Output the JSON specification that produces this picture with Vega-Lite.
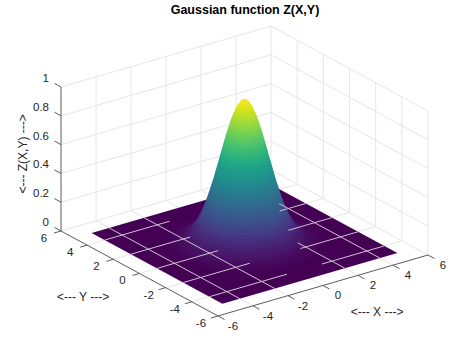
{"$schema":"https://vega.github.io/schema/vega-lite/v6.json","width":474,"height":355,"padding":0,"autosize":{"type":"none"},"background":"white","view":{"stroke":null},
"title":{"text":"Gaussian function Z(X,Y)","font":"Liberation Sans","fontSize":12.5,"fontWeight":"bold","color":"#000000","anchor":"middle","dx":8,"offset":-16},
"data":{"values":[
{"k":"g","X":-4,"Y":6,"Z":0,"X2":-4,"Y2":6,"Z2":1},{"k":"g","X":-2,"Y":6,"Z":0,"X2":-2,"Y2":6,"Z2":1},{"k":"g","X":0,"Y":6,"Z":0,"X2":0,"Y2":6,"Z2":1},{"k":"g","X":2,"Y":6,"Z":0,"X2":2,"Y2":6,"Z2":1},{"k":"g","X":4,"Y":6,"Z":0,"X2":4,"Y2":6,"Z2":1},{"k":"g","X":6,"Y":6,"Z":0,"X2":6,"Y2":6,"Z2":1},
{"k":"g","X":6,"Y":-6,"Z":0,"X2":6,"Y2":-6,"Z2":1},{"k":"g","X":6,"Y":-4,"Z":0,"X2":6,"Y2":-4,"Z2":1},{"k":"g","X":6,"Y":-2,"Z":0,"X2":6,"Y2":-2,"Z2":1},{"k":"g","X":6,"Y":0,"Z":0,"X2":6,"Y2":0,"Z2":1},{"k":"g","X":6,"Y":2,"Z":0,"X2":6,"Y2":2,"Z2":1},{"k":"g","X":6,"Y":4,"Z":0,"X2":6,"Y2":4,"Z2":1},
{"k":"g","X":-6,"Y":6,"Z":0.2,"X2":6,"Y2":6,"Z2":0.2},{"k":"g","X":-6,"Y":6,"Z":0.4,"X2":6,"Y2":6,"Z2":0.4},{"k":"g","X":-6,"Y":6,"Z":0.6,"X2":6,"Y2":6,"Z2":0.6},{"k":"g","X":-6,"Y":6,"Z":0.8,"X2":6,"Y2":6,"Z2":0.8},{"k":"g","X":-6,"Y":6,"Z":1,"X2":6,"Y2":6,"Z2":1},{"k":"g","X":-6,"Y":6,"Z":0,"X2":6,"Y2":6,"Z2":0},
{"k":"g","X":6,"Y":-6,"Z":0.2,"X2":6,"Y2":6,"Z2":0.2},{"k":"g","X":6,"Y":-6,"Z":0.4,"X2":6,"Y2":6,"Z2":0.4},{"k":"g","X":6,"Y":-6,"Z":0.6,"X2":6,"Y2":6,"Z2":0.6},{"k":"g","X":6,"Y":-6,"Z":0.8,"X2":6,"Y2":6,"Z2":0.8},{"k":"g","X":6,"Y":-6,"Z":1,"X2":6,"Y2":6,"Z2":1},{"k":"g","X":6,"Y":-6,"Z":0,"X2":6,"Y2":6,"Z2":0},
{"k":"g","X":-4,"Y":-6,"Z":0,"X2":-4,"Y2":6,"Z2":0},{"k":"g","X":-2,"Y":-6,"Z":0,"X2":-2,"Y2":6,"Z2":0},{"k":"g","X":0,"Y":-6,"Z":0,"X2":0,"Y2":6,"Z2":0},{"k":"g","X":2,"Y":-6,"Z":0,"X2":2,"Y2":6,"Z2":0},{"k":"g","X":4,"Y":-6,"Z":0,"X2":4,"Y2":6,"Z2":0},
{"k":"g","X":-6,"Y":-4,"Z":0,"X2":6,"Y2":-4,"Z2":0},{"k":"g","X":-6,"Y":-2,"Z":0,"X2":6,"Y2":-2,"Z2":0},{"k":"g","X":-6,"Y":0,"Z":0,"X2":6,"Y2":0,"Z2":0},{"k":"g","X":-6,"Y":2,"Z":0,"X2":6,"Y2":2,"Z2":0},{"k":"g","X":-6,"Y":4,"Z":0,"X2":6,"Y2":4,"Z2":0},
{"k":"f","i":0,"X":-5,"Y":5,"Z":0},{"k":"f","i":1,"X":-5,"Y":-5,"Z":0},{"k":"f","i":2,"X":5,"Y":-5,"Z":0},{"k":"f","i":3,"X":5,"Y":5,"Z":0},
{"k":"s","X":0,"Y":0,"Z":0.005,"R":3.646},{"k":"s","X":0,"Y":0,"Z":0.01,"R":3.399},{"k":"s","X":0,"Y":0,"Z":0.015,"R":3.246},{"k":"s","X":0,"Y":0,"Z":0.02,"R":3.133},{"k":"s","X":0,"Y":0,"Z":0.03,"R":2.966},{"k":"s","X":0,"Y":0,"Z":0.04,"R":2.841},{"k":"s","X":0,"Y":0,"Z":0.05,"R":2.742},{"k":"s","X":0,"Y":0,"Z":0.06,"R":2.657},{"k":"s","X":0,"Y":0,"Z":0.08,"R":2.518},{"k":"s","X":0,"Y":0,"Z":0.1,"R":2.404},{"k":"s","X":0,"Y":0,"Z":0.12,"R":2.306},{"k":"s","X":0,"Y":0,"Z":0.14,"R":2.221},{"k":"s","X":0,"Y":0,"Z":0.16,"R":2.144},{"k":"s","X":0,"Y":0,"Z":0.18,"R":2.074},{"k":"s","X":0,"Y":0,"Z":0.2,"R":2.009},{"k":"s","X":0,"Y":0,"Z":0.22,"R":1.949},{"k":"s","X":0,"Y":0,"Z":0.24,"R":1.892},{"k":"s","X":0,"Y":0,"Z":0.26,"R":1.838},{"k":"s","X":0,"Y":0,"Z":0.28,"R":1.788},{"k":"s","X":0,"Y":0,"Z":0.3,"R":1.738},{"k":"s","X":0,"Y":0,"Z":0.32,"R":1.691},{"k":"s","X":0,"Y":0,"Z":0.34,"R":1.645},{"k":"s","X":0,"Y":0,"Z":0.36,"R":1.6},{"k":"s","X":0,"Y":0,"Z":0.38,"R":1.558},{"k":"s","X":0,"Y":0,"Z":0.4,"R":1.516},{"k":"s","X":0,"Y":0,"Z":0.42,"R":1.475},{"k":"s","X":0,"Y":0,"Z":0.44,"R":1.435},{"k":"s","X":0,"Y":0,"Z":0.46,"R":1.396},{"k":"s","X":0,"Y":0,"Z":0.48,"R":1.357},{"k":"s","X":0,"Y":0,"Z":0.5,"R":1.318},{"k":"s","X":0,"Y":0,"Z":0.52,"R":1.281},{"k":"s","X":0,"Y":0,"Z":0.54,"R":1.243},{"k":"s","X":0,"Y":0,"Z":0.56,"R":1.206},{"k":"s","X":0,"Y":0,"Z":0.58,"R":1.169},{"k":"s","X":0,"Y":0,"Z":0.6,"R":1.132},{"k":"s","X":0,"Y":0,"Z":0.62,"R":1.095},{"k":"s","X":0,"Y":0,"Z":0.64,"R":1.058},{"k":"s","X":0,"Y":0,"Z":0.66,"R":1.021},{"k":"s","X":0,"Y":0,"Z":0.68,"R":0.983},{"k":"s","X":0,"Y":0,"Z":0.7,"R":0.946},{"k":"s","X":0,"Y":0,"Z":0.72,"R":0.908},{"k":"s","X":0,"Y":0,"Z":0.74,"R":0.869},{"k":"s","X":0,"Y":0,"Z":0.76,"R":0.83},{"k":"s","X":0,"Y":0,"Z":0.78,"R":0.79},{"k":"s","X":0,"Y":0,"Z":0.8,"R":0.748},{"k":"s","X":0,"Y":0,"Z":0.82,"R":0.706},{"k":"s","X":0,"Y":0,"Z":0.84,"R":0.661},{"k":"s","X":0,"Y":0,"Z":0.86,"R":0.615},{"k":"s","X":0,"Y":0,"Z":0.88,"R":0.567},{"k":"s","X":0,"Y":0,"Z":0.9,"R":0.514},{"k":"s","X":0,"Y":0,"Z":0.92,"R":0.457},{"k":"s","X":0,"Y":0,"Z":0.94,"R":0.394},{"k":"s","X":0,"Y":0,"Z":0.96,"R":0.32},{"k":"s","X":0,"Y":0,"Z":0.98,"R":0.225},{"k":"s","X":0,"Y":0,"Z":0.99,"R":0.159},
{"k":"o","X":-5,"Y":4,"Z":0,"X2":-1.3,"Y2":4,"Z2":0},{"k":"o","X":-5,"Y":2,"Z":0,"X2":-1.6,"Y2":2,"Z2":0},{"k":"o","X":-5,"Y":0,"Z":0,"X2":-1.5,"Y2":0,"Z2":0},{"k":"o","X":-5,"Y":-2,"Z":0,"X2":-1.2,"Y2":-2,"Z2":0},{"k":"o","X":-5,"Y":-4,"Z":0,"X2":-0.56,"Y2":-4,"Z2":0},
{"k":"o","X":1.44,"Y":-4,"Z":0,"X2":5,"Y2":-4,"Z2":0},{"k":"o","X":1.7,"Y":-2,"Z":0,"X2":5,"Y2":-2,"Z2":0},{"k":"o","X":2.5,"Y":0,"Z":0,"X2":5,"Y2":0,"Z2":0},{"k":"o","X":3.5,"Y":2,"Z":0,"X2":5,"Y2":2,"Z2":0},
{"k":"o","X":-4,"Y":5,"Z":0,"X2":-4,"Y2":-5,"Z2":0},{"k":"o","X":-2,"Y":5,"Z":0,"X2":-2,"Y2":-5,"Z2":0},{"k":"o","X":2,"Y":-1.4,"Z":0,"X2":2,"Y2":-5,"Z2":0},{"k":"o","X":4,"Y":2.7,"Z":0,"X2":4,"Y2":-5,"Z2":0},
{"k":"a","X":-6,"Y":6,"Z":0,"X2":-6,"Y2":6,"Z2":1},{"k":"a","X":-6,"Y":-6,"Z":0,"X2":-6,"Y2":6,"Z2":0},{"k":"a","X":-6,"Y":-6,"Z":0,"X2":6,"Y2":-6,"Z2":0},
{"k":"a","X":-6,"Y":-6,"Z":0,"X2":-6,"Y2":-6.5,"Z2":0},{"k":"a","X":-4,"Y":-6,"Z":0,"X2":-4,"Y2":-6.5,"Z2":0},{"k":"a","X":-2,"Y":-6,"Z":0,"X2":-2,"Y2":-6.5,"Z2":0},{"k":"a","X":0,"Y":-6,"Z":0,"X2":0,"Y2":-6.5,"Z2":0},{"k":"a","X":2,"Y":-6,"Z":0,"X2":2,"Y2":-6.5,"Z2":0},{"k":"a","X":4,"Y":-6,"Z":0,"X2":4,"Y2":-6.5,"Z2":0},{"k":"a","X":6,"Y":-6,"Z":0,"X2":6,"Y2":-6.5,"Z2":0},
{"k":"a","X":-6,"Y":-6,"Z":0,"X2":-6.4,"Y2":-6,"Z2":0},{"k":"a","X":-6,"Y":-4,"Z":0,"X2":-6.4,"Y2":-4,"Z2":0},{"k":"a","X":-6,"Y":-2,"Z":0,"X2":-6.4,"Y2":-2,"Z2":0},{"k":"a","X":-6,"Y":0,"Z":0,"X2":-6.4,"Y2":0,"Z2":0},{"k":"a","X":-6,"Y":2,"Z":0,"X2":-6.4,"Y2":2,"Z2":0},{"k":"a","X":-6,"Y":4,"Z":0,"X2":-6.4,"Y2":4,"Z2":0},{"k":"a","X":-6,"Y":6,"Z":0,"X2":-6.4,"Y2":6,"Z2":0},
{"k":"a","X":-6,"Y":6,"Z":0,"X2":-6,"Y2":6.5,"Z2":0},{"k":"a","X":-6,"Y":6,"Z":0.2,"X2":-6,"Y2":6.5,"Z2":0.2},{"k":"a","X":-6,"Y":6,"Z":0.4,"X2":-6,"Y2":6.5,"Z2":0.4},{"k":"a","X":-6,"Y":6,"Z":0.6,"X2":-6,"Y2":6.5,"Z2":0.6},{"k":"a","X":-6,"Y":6,"Z":0.8,"X2":-6,"Y2":6.5,"Z2":0.8},{"k":"a","X":-6,"Y":6,"Z":1,"X2":-6,"Y2":6.5,"Z2":1},
{"k":"xl","X":-6,"Y":-6,"Z":0,"t":"-6"},{"k":"xl","X":-4,"Y":-6,"Z":0,"t":"-4"},{"k":"xl","X":-2,"Y":-6,"Z":0,"t":"-2"},{"k":"xl","X":0,"Y":-6,"Z":0,"t":"0"},{"k":"xl","X":2,"Y":-6,"Z":0,"t":"2"},{"k":"xl","X":4,"Y":-6,"Z":0,"t":"4"},{"k":"xl","X":6,"Y":-6,"Z":0,"t":"6"},
{"k":"yl","X":-6,"Y":-6,"Z":0,"t":"-6"},{"k":"yl","X":-6,"Y":-4,"Z":0,"t":"-4"},{"k":"yl","X":-6,"Y":-2,"Z":0,"t":"-2"},{"k":"yl","X":-6,"Y":0,"Z":0,"t":"0"},{"k":"yl","X":-6,"Y":2,"Z":0,"t":"2"},{"k":"yl","X":-6,"Y":4,"Z":0,"t":"4"},{"k":"yl","X":-6,"Y":6,"Z":0,"t":"6"},
{"k":"zl","X":-6,"Y":6,"Z":0,"t":"0"},{"k":"zl","X":-6,"Y":6,"Z":0.2,"t":"0.2"},{"k":"zl","X":-6,"Y":6,"Z":0.4,"t":"0.4"},{"k":"zl","X":-6,"Y":6,"Z":0.6,"t":"0.6"},{"k":"zl","X":-6,"Y":6,"Z":0.8,"t":"0.8"},{"k":"zl","X":-6,"Y":6,"Z":1,"t":"1"},
{"k":"t","X":0.19,"Y":-9.88,"Z":0,"t":"<--- X --->"},{"k":"t","X":-9.72,"Y":-0.66,"Z":0,"t":"<--- Y --->"},{"k":"tz","X":-2.12,"Y":14.1,"Z":0,"t":"<--- Z(X,Y) --->"}
]},
"transform":[
{"calculate":"244.5+17.5*datum.X-13.08*datum.Y","as":"sx"},
{"calculate":"243-5.08*datum.X-7.08*datum.Y-144*datum.Z","as":"sy"},
{"calculate":"244.5+17.5*datum.X2-13.08*datum.Y2","as":"sx2"},
{"calculate":"243-5.08*datum.X2-7.08*datum.Y2-144*datum.Z2","as":"sy2"},
{"calculate":"pow(2*21.85*datum.R,2)","as":"sz"}
],
"encoding":{
"x":{"field":"sx","type":"quantitative","axis":null,"scale":{"domain":[0,474],"range":[0,474],"nice":false,"zero":false}},
"y":{"field":"sy","type":"quantitative","axis":null,"scale":{"domain":[355,0],"range":[355,0],"nice":false,"zero":false,"reverse":false}}
},
"layer":[
{"transform":[{"filter":"datum.k=='g'"}],"mark":{"type":"rule","color":"#e6e6e6","strokeWidth":1},"encoding":{"x2":{"field":"sx2"},"y2":{"field":"sy2"}}},
{"transform":[{"filter":"datum.k=='f'"}],"mark":{"type":"line","filled":true,"color":"#440154","strokeWidth":0},"encoding":{"order":{"field":"i","type":"quantitative"}}},
{"transform":[{"filter":"datum.k=='s'"}],"mark":{"type":"point","filled":true,"opacity":1,"strokeWidth":0,"shape":"M-1,0A1,0.3987 0 1 0 1,0A1,0.3987 0 1 0 -1,0Z"},"encoding":{"color":{"field":"Z","type":"quantitative","legend":null,"scale":{"scheme":"viridis","domain":[0,1]}},"size":{"field":"sz","type":"quantitative","scale":null}}},
{"transform":[{"filter":"datum.k=='o'"}],"mark":{"type":"rule","color":"#d0c0d6","strokeWidth":1},"encoding":{"x2":{"field":"sx2"},"y2":{"field":"sy2"}}},
{"transform":[{"filter":"datum.k=='a'"}],"mark":{"type":"rule","color":"#5c5c5c","strokeWidth":1},"encoding":{"x2":{"field":"sx2"},"y2":{"field":"sy2"}}},
{"transform":[{"filter":"datum.k=='xl'"}],"mark":{"type":"text","font":"Liberation Sans","fontSize":11.5,"color":"#262626","align":"center","baseline":"middle","dx":15,"dy":11},"encoding":{"text":{"field":"t"}}},
{"transform":[{"filter":"datum.k=='yl'"}],"mark":{"type":"text","font":"Liberation Sans","fontSize":11.5,"color":"#262626","align":"center","baseline":"middle","dx":-17,"dy":8},"encoding":{"text":{"field":"t"}}},
{"transform":[{"filter":"datum.k=='zl'"}],"mark":{"type":"text","font":"Liberation Sans","fontSize":11.5,"color":"#262626","align":"right","baseline":"middle","dx":-12,"dy":-8},"encoding":{"text":{"field":"t"}}},
{"transform":[{"filter":"datum.k=='t'"}],"mark":{"type":"text","font":"Liberation Sans","fontSize":12,"color":"#262626","align":"center","baseline":"middle"},"encoding":{"text":{"field":"t"}}},
{"transform":[{"filter":"datum.k=='tz'"}],"mark":{"type":"text","font":"Liberation Sans","fontSize":12,"color":"#262626","align":"center","baseline":"middle","angle":270},"encoding":{"text":{"field":"t"}}}
]}
